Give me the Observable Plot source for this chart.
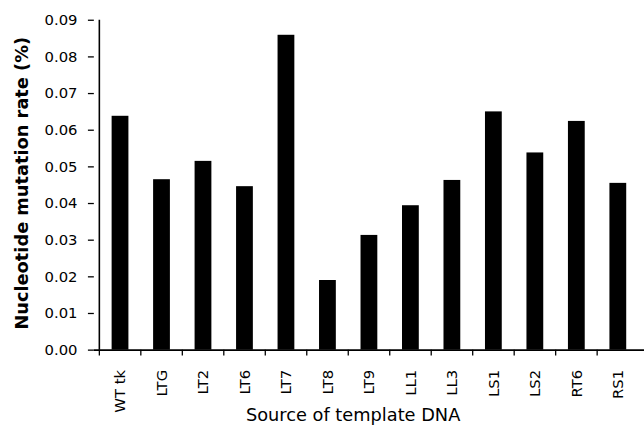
<!DOCTYPE html>
<html>
<head>
<meta charset="utf-8">
<script src="https://cdn.jsdelivr.net/npm/d3@7"></script>
<script src="https://cdn.jsdelivr.net/npm/@observablehq/plot@0.6"></script>
<style>
  html, body { margin: 0; padding: 0; background: #fff; overflow: hidden; }
  #chart { width: 644px; height: 427px; overflow: hidden; }
</style>
</head>
<body>
<div id="chart"></div>
<script>
const categories = ["WT tk", "LTG", "LT2", "LT6", "LT7", "LT8", "LT9", "LL1", "LL3", "LS1", "LS2", "RT6", "RS1"];
const rates = [0.0638, 0.0465, 0.0515, 0.0446, 0.0859, 0.0190, 0.0313, 0.0394, 0.0463, 0.0650, 0.0538, 0.0624, 0.0455];
const yTicks = [0, 0.01, 0.02, 0.03, 0.04, 0.05, 0.06, 0.07, 0.08, 0.09];
const yTitle = "Nucleotide mutation rate (%)";
const xTitle = "Source of template DNA";

const data = categories.map((c, i) => ({source: c, rate: rates[i]}));

const W = 652, H = 427, mL = 95, mR = 0, mT = 20, mB = 73;
const step = (W - mL - mR) / categories.length;
const font = "DejaVu Sans, sans-serif";

const chart = Plot.plot({
  width: W,
  height: H,
  marginLeft: mL,
  marginRight: mR,
  marginTop: mT,
  marginBottom: mB,
  style: {fontFamily: font, color: "#000", background: "#fff", overflow: "visible"},
  x: {domain: categories, paddingInner: 0.59, paddingOuter: 0.295, axis: null},
  y: {domain: [0, 0.09], axis: null},
  marks: [
    Plot.barY(data, {x: "source", y: "rate", fill: "#000"}),
    // y axis
    Plot.axisY({ticks: yTicks, tickFormat: d3.format(".2f"), tickSize: 6, tickPadding: 11,
      fontSize: 15, label: null, strokeWidth: 1.3}),
    // x tick marks at band boundaries
    Plot.axisX({ticks: categories, tickSize: 6, text: null, dx: -step / 2, label: null, strokeWidth: 1.3}),
    // x tick labels
    Plot.axisX({ticks: categories, tickSize: 0, tickPadding: 20, tickRotate: -90, fontSize: 15, label: null}),
    // axis lines
    Plot.ruleY([0], {stroke: "#000", strokeWidth: 1.6}),
    Plot.ruleX([categories[0]], {y1: 0, y2: 0.09, dx: -step / 2, stroke: "#000", strokeWidth: 1.6}),
    // titles
    Plot.text([yTitle], {frameAnchor: "left", textAnchor: "middle", rotate: -90, dx: -80, dy: -2, lineAnchor: "top",
      fontWeight: "bold", fontSize: 18, fill: "#000"}),
    Plot.text([xTitle], {frameAnchor: "bottom", textAnchor: "middle", dy: 72, dx: -16.5, lineAnchor: "bottom",
      fontSize: 18, fill: "#000"})
  ]
});
document.getElementById("chart").appendChild(chart);
</script>
</body>
</html>
